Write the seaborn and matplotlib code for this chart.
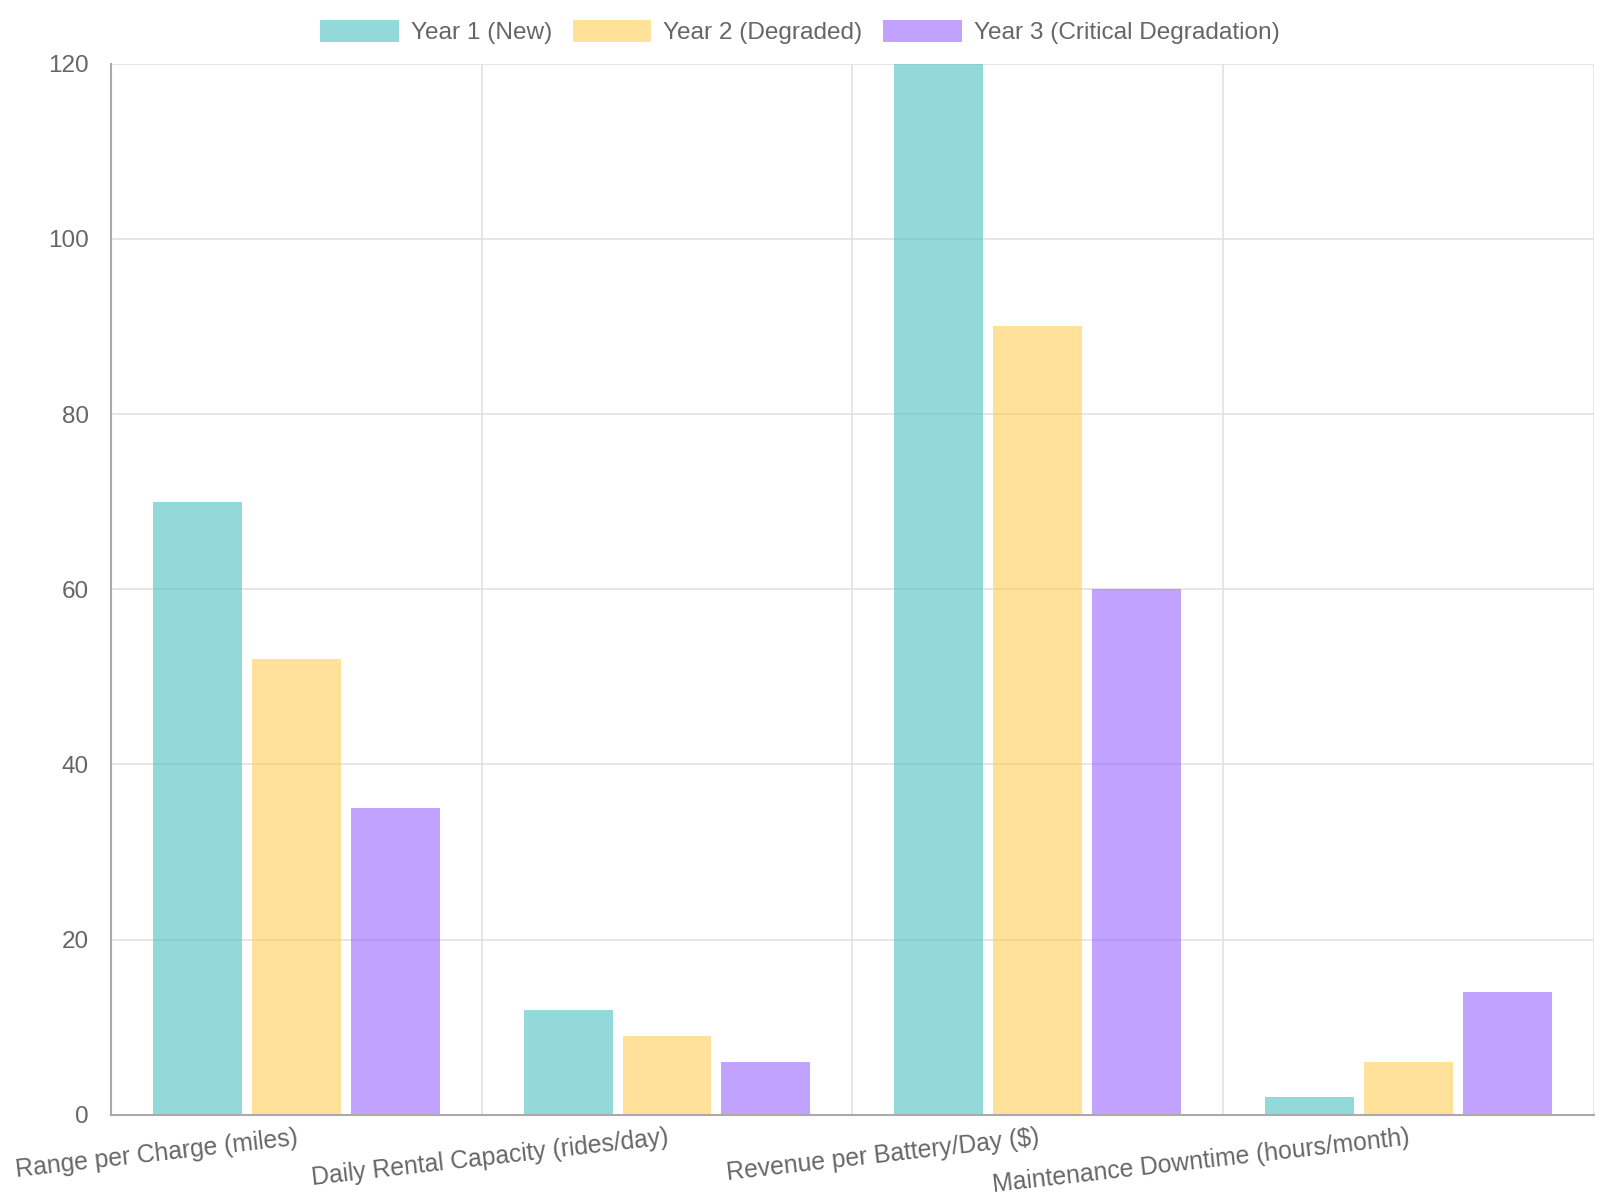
import pandas as pd
import matplotlib.pyplot as plt
import seaborn as sns
from matplotlib.patches import Patch

# Metrics per battery age
categories = [
    "Range per Charge (miles)",
    "Daily Rental Capacity (rides/day)",
    "Revenue per Battery/Day ($)",
    "Maintenance Downtime (hours/month)",
]
series_names = ["Year 1 (New)", "Year 2 (Degraded)", "Year 3 (Critical Degradation)"]
year1 = [70, 12, 120, 2]
year2 = [52, 9, 90, 6]
year3 = [35, 6, 60, 14]
y_ticks = [0, 20, 40, 60, 80, 100, 120]

colors = ["#4bc0c0", "#ffcd56", "#9966ff"]

rows = []
for name, vals in zip(series_names, [year1, year2, year3]):
    for cat, v in zip(categories, vals):
        rows.append({"Metric": cat, "Series": name, "Value": v})
df = pd.DataFrame(rows)

sns.set_theme(style="white")
plt.rcParams["font.family"] = ["Liberation Sans", "DejaVu Sans"]

fig = plt.figure(figsize=(16, 12), dpi=100)
ax = fig.add_axes([0.0694, 0.071, 0.9266, 0.876])

sns.barplot(
    data=df, x="Metric", y="Value", hue="Series",
    order=categories, hue_order=series_names,
    palette=colors, saturation=1, alpha=0.6, width=0.8, gap=0.1,
    linewidth=0, edgecolor="none", ax=ax, legend=False,
)

ax.set_xlim(-0.5, len(categories) - 0.5)
ax.set_ylim(0, 120)
ax.set_yticks(y_ticks)
ax.set_yticklabels([str(t) for t in y_ticks])

# category boundaries as major ticks (grid), labels at centers as minor ticks
ax.set_xticks([i - 0.5 for i in range(len(categories) + 1)])
ax.set_xticklabels([])
ax.set_xticks(range(len(categories)), minor=True)
ax.set_xticklabels(categories, minor=True, rotation=6.5, ha="right",
                   va="top", rotation_mode="anchor")

ax.grid(True, which="major", color="#e1e1e1", linewidth=1.2)
ax.set_axisbelow(True)
ax.tick_params(axis="x", which="major", length=13, color="#e1e1e1", width=1.2)
ax.tick_params(axis="x", which="minor", length=0, pad=8, labelsize=17.8, labelcolor="#666666")
ax.tick_params(axis="y", length=13, color="#e1e1e1", width=1.2, pad=3,
               labelsize=17.5, labelcolor="#666666")

for side in ["top", "right"]:
    ax.spines[side].set_visible(False)
ax.spines["left"].set_color("#aaaaaa")
ax.spines["left"].set_linewidth(1.5)
ax.spines["bottom"].set_color("#aaaaaa")
ax.spines["bottom"].set_linewidth(1.5)

ax.set_xlabel("")
ax.set_ylabel("")

handles = [Patch(facecolor=c, alpha=0.6, edgecolor="none") for c in colors]
fig.legend(handles, series_names, loc="center", bbox_to_anchor=(0.5, 0.9733),
           ncol=3, frameon=False, fontsize=17.6, labelcolor="#666666",
           handlelength=3.2, handleheight=1.0, handletextpad=0.5,
           columnspacing=0.85)

plt.savefig("out.png", dpi=100)
plt.close()
